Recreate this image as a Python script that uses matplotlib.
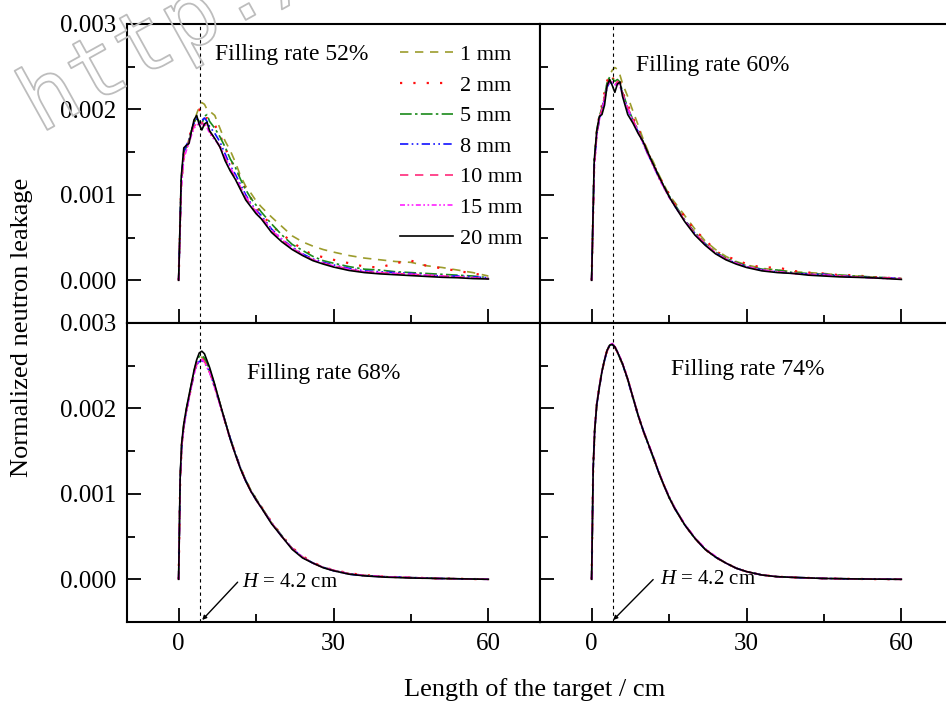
import matplotlib.pyplot as plt
import matplotlib.patheffects as pe
from matplotlib.ticker import MultipleLocator, FormatStrFormatter
import numpy as np

plt.rcParams['font.family'] = ['Liberation Serif', 'DejaVu Serif']
plt.rcParams['mathtext.fontset'] = 'custom'
plt.rcParams['mathtext.rm'] = 'Liberation Serif'
plt.rcParams['mathtext.it'] = 'Liberation Serif:italic'

sizes = ['1 mm', '2 mm', '5 mm', '8 mm', '10 mm', '15 mm', '20 mm']
colors = ['#9c9c2c', '#ff1010', '#1a8a1a', '#1010ff', '#ff2a7a', '#ff20ff', '#000000']
styles = [(0, (5, 4)), (0, (1, 5)), (0, (7, 2, 1.5, 2)), (0, (5, 2, 1, 2, 1, 2)),
          (0, (5, 4)), (0, (3, 1.5, 1, 1.5, 1, 1.5)), '-']
widths = [1.2, 1.6, 1.2, 1.2, 1.2, 1.2, 1.2]

rates = ['Filling rate 52%', 'Filling rate 60%', 'Filling rate 68%', 'Filling rate 74%']

# target length (cm)
x_top = [0, 0.5, 1, 1.5, 2, 2.5, 3, 3.5, 4, 4.5, 5, 5.5, 6, 7, 8, 9, 10, 11, 12, 13,
         14, 15, 16, 18, 20, 22, 24, 26, 28, 30, 33, 36, 39, 42, 45, 48, 51, 54, 57, 60]
x_bot = [0, 0.3, 0.6, 1, 1.5, 2, 2.5, 3, 3.5, 4, 4.5, 5, 6, 7, 8, 9, 10, 11, 12, 13,
         14, 15, 16, 18, 20, 22, 24, 26, 28, 30, 33, 36, 40, 45, 50, 55, 60]

# normalized leakage, units of 1e-4, one row per particle size
leak_52 = [
    [0, 11, 14.5, 15.5, 16.5, 17.5, 18.5, 19.5, 20.3, 20.8, 20.6, 20.0, 19.8, 19.3, 17.8, 16.3, 15.2, 13.8, 12.2, 11.0,
     10.2, 9.3, 8.6, 7.4, 6.3, 5.2, 4.5, 4.0, 3.6, 3.3, 2.9, 2.6, 2.4, 2.2, 2.1, 1.7, 1.5, 1.2, 0.9, 0.5],
    [0, 11.5, 14.8, 15.5, 16.5, 17.8, 18.6, 19.5, 20.0, 19.4, 18.8, 19.0, 18.6, 18.2, 17.0, 15.5, 14.2, 13.0, 12.0, 10.6,
     9.6, 8.6, 7.8, 6.4, 5.4, 4.5, 3.6, 3.0, 2.7, 2.4, 2.0, 1.6, 1.5, 2.0, 2.3, 1.7, 1.4, 1.1, 0.8, 0.5],
    [0, 11.8, 15.0, 15.6, 16.3, 17.5, 18.5, 19.0, 18.6, 18.3, 19.2, 19.4, 18.6, 17.8, 16.8, 15.6, 14.2, 13.2, 11.8, 10.6,
     9.6, 8.8, 8.0, 6.6, 5.3, 4.2, 3.5, 2.8, 2.3, 2.0, 1.6, 1.3, 1.2, 1.0, 0.9, 0.8, 0.7, 0.6, 0.5, 0.3],
    [0, 11.5, 15.0, 15.8, 16.4, 17.5, 18.4, 18.9, 18.4, 18.7, 19.0, 18.6, 18.0, 17.2, 16.2, 14.8, 13.4, 12.4, 11.2, 10.0,
     9.0, 8.2, 7.6, 6.0, 4.8, 3.9, 3.1, 2.5, 2.1, 1.8, 1.4, 1.1, 1.0, 0.9, 0.8, 0.6, 0.5, 0.5, 0.4, 0.3],
    [0, 11.0, 14.5, 15.4, 16.2, 17.3, 18.0, 18.4, 18.2, 18.5, 18.1, 18.3, 17.4, 16.6, 15.6, 14.3, 13.0, 12.0, 10.8, 9.7,
     8.8, 8.0, 7.4, 5.8, 4.7, 3.8, 3.0, 2.4, 2.0, 1.7, 1.3, 1.0, 0.9, 0.8, 0.7, 0.6, 0.5, 0.4, 0.3, 0.2],
    [0, 10.5, 14.2, 15.2, 16.0, 17.0, 17.8, 18.2, 18.3, 18.0, 18.4, 17.9, 17.2, 16.4, 15.8, 14.4, 13.2, 12.1, 10.9, 9.8,
     8.9, 8.1, 7.3, 5.9, 4.8, 3.8, 3.0, 2.4, 2.0, 1.7, 1.3, 1.0, 0.9, 0.8, 0.7, 0.6, 0.5, 0.4, 0.3, 0.2],
    [0, 12.0, 15.5, 15.8, 16.0, 17.5, 18.8, 19.3, 18.2, 17.6, 18.3, 18.5, 17.5, 16.6, 15.6, 14.0, 12.8, 11.8, 10.6, 9.4,
     8.6, 7.8, 7.2, 5.6, 4.5, 3.6, 2.9, 2.3, 1.9, 1.55, 1.15, 0.9, 0.75, 0.65, 0.55, 0.45, 0.35, 0.3, 0.2, 0.15],
]

leak_60 = [
    [0, 13.0, 17.0, 19.0, 20.0, 21.5, 23.0, 24.0, 24.6, 24.9, 24.7, 24.0, 23.0, 21.5, 19.8, 18.2, 16.5, 15.0, 13.8, 12.4,
     11.2, 10.0, 9.2, 7.6, 6.0, 4.6, 3.6, 2.8, 2.2, 1.8, 1.4, 1.2, 1.0, 0.9, 0.8, 0.6, 0.5, 0.4, 0.3, 0.2],
    [0, 13.5, 17.5, 19.3, 20.5, 22.0, 23.3, 24.2, 23.8, 23.2, 23.6, 23.3, 22.0, 20.6, 19.0, 17.8, 16.3, 14.8, 13.6, 12.2,
     11.2, 10.1, 9.0, 7.5, 5.8, 4.8, 3.4, 2.8, 2.4, 1.9, 1.5, 1.5, 1.1, 0.9, 0.8, 0.6, 0.6, 0.4, 0.3, 0.2],
    [0, 13.8, 17.6, 19.2, 20.2, 21.5, 23.2, 23.8, 23.6, 23.3, 23.5, 23.2, 22.0, 20.2, 18.8, 17.6, 16.2, 14.8, 13.5, 12.2,
     11.0, 9.9, 9.0, 7.1, 5.6, 4.3, 3.3, 2.6, 2.1, 1.7, 1.3, 1.2, 0.9, 0.8, 0.7, 0.6, 0.5, 0.4, 0.3, 0.2],
    [0, 13.5, 17.0, 18.8, 19.8, 21.2, 22.6, 23.2, 23.0, 22.8, 23.2, 22.9, 21.8, 20.0, 18.6, 17.4, 16.0, 14.6, 13.4, 12.0,
     10.9, 9.8, 8.8, 7.0, 5.5, 4.2, 3.2, 2.5, 2.0, 1.6, 1.2, 1.0, 0.8, 0.7, 0.7, 0.5, 0.4, 0.3, 0.3, 0.2],
    [0, 13.2, 17.2, 19.0, 20.0, 21.5, 22.8, 23.4, 23.1, 22.8, 23.3, 23.0, 21.9, 20.2, 18.8, 17.5, 16.1, 14.7, 13.4, 12.1,
     10.9, 9.8, 8.9, 7.0, 5.5, 4.3, 3.2, 2.5, 2.0, 1.6, 1.2, 1.0, 0.8, 0.7, 0.6, 0.5, 0.4, 0.3, 0.3, 0.2],
    [0, 13.0, 17.0, 18.8, 19.9, 21.3, 22.6, 23.2, 23.2, 22.9, 23.0, 22.7, 21.6, 20.1, 18.7, 17.4, 16.0, 14.6, 13.3, 12.0,
     10.8, 9.7, 8.8, 7.0, 5.4, 4.2, 3.2, 2.5, 2.0, 1.6, 1.2, 1.0, 0.8, 0.7, 0.6, 0.5, 0.4, 0.3, 0.2, 0.2],
    [0, 14.0, 17.5, 19.2, 19.4, 20.5, 22.8, 23.5, 22.8, 22.0, 23.0, 23.2, 21.5, 19.4, 18.4, 17.2, 16.2, 14.8, 13.5, 12.2,
     11.0, 9.8, 8.8, 6.9, 5.3, 4.1, 3.1, 2.4, 1.9, 1.5, 1.1, 0.9, 0.8, 0.6, 0.5, 0.4, 0.35, 0.3, 0.2, 0.1],
]

leak_68 = [
    [0, 11.5, 15.6, 18.0, 19.8, 21.3, 22.8, 24.2, 25.3, 25.9, 26.0, 25.7, 24.4, 22.6, 20.6, 18.5, 16.5, 14.7, 13.0, 11.6,
     10.4, 9.4, 8.5, 6.6, 5.0, 3.6, 2.6, 1.9, 1.4, 1.05, 0.65, 0.45, 0.3, 0.2, 0.1, 0.05, 0.0],
    [0, 11.6, 15.7, 18.0, 19.8, 21.2, 22.7, 24.1, 25.2, 25.8, 25.9, 25.6, 24.3, 22.5, 20.5, 18.4, 16.4, 14.7, 13.0, 11.6,
     10.4, 9.4, 8.5, 6.7, 5.1, 3.7, 2.7, 2.0, 1.4, 1.1, 0.7, 0.5, 0.3, 0.2, 0.1, 0.05, 0.0],
    [0, 11.8, 15.8, 18.1, 19.9, 21.4, 22.9, 24.4, 25.5, 26.1, 26.2, 25.9, 24.6, 22.7, 20.6, 18.5, 16.5, 14.7, 13.0, 11.6,
     10.4, 9.4, 8.5, 6.6, 5.1, 3.6, 2.6, 1.9, 1.4, 1.05, 0.65, 0.45, 0.3, 0.2, 0.1, 0.05, 0.0],
    [0, 11.7, 15.6, 17.8, 19.6, 21.2, 22.6, 24.1, 25.1, 25.5, 25.6, 25.4, 24.3, 22.5, 20.5, 18.5, 16.5, 14.7, 13.0, 11.5,
     10.3, 9.3, 8.4, 6.6, 5.0, 3.6, 2.6, 1.9, 1.4, 1.0, 0.6, 0.4, 0.3, 0.2, 0.1, 0.05, 0.0],
    [0, 11.5, 15.5, 17.9, 19.7, 21.2, 22.7, 24.2, 25.3, 25.8, 25.8, 25.5, 24.3, 22.5, 20.5, 18.4, 16.4, 14.6, 12.9, 11.5,
     10.3, 9.3, 8.4, 6.6, 5.0, 3.6, 2.6, 1.9, 1.4, 1.05, 0.65, 0.45, 0.3, 0.2, 0.1, 0.05, 0.0],
    [0, 11.4, 15.4, 17.8, 19.6, 21.1, 22.6, 24.0, 25.1, 25.6, 25.7, 25.4, 24.2, 22.4, 20.4, 18.4, 16.4, 14.6, 12.9, 11.5,
     10.3, 9.3, 8.4, 6.6, 5.0, 3.6, 2.6, 1.9, 1.4, 1.05, 0.65, 0.45, 0.3, 0.2, 0.1, 0.05, 0.0],
    [0, 12.0, 16.0, 18.2, 20.0, 21.5, 23.0, 24.5, 25.7, 26.5, 26.7, 26.4, 24.8, 22.8, 20.6, 18.5, 16.4, 14.6, 12.9, 11.5,
     10.3, 9.3, 8.4, 6.5, 5.0, 3.5, 2.5, 1.9, 1.35, 1.0, 0.6, 0.4, 0.25, 0.15, 0.1, 0.05, 0.0],
]

leak_74 = [
    [0, 12.9, 17.4, 20.4, 22.5, 24.3, 25.7, 26.8, 27.4, 27.4, 27.1, 26.6, 25.2, 23.4, 21.3, 19.3, 17.4, 15.8, 14.2, 12.5,
     11.0, 9.7, 8.5, 6.4, 4.8, 3.5, 2.6, 1.9, 1.3, 0.9, 0.5, 0.3, 0.2, 0.1, 0.05, 0.02, 0.0],
    [0, 13.0, 17.4, 20.5, 22.6, 24.3, 25.8, 26.8, 27.3, 27.4, 27.2, 26.6, 25.2, 23.4, 21.3, 19.2, 17.4, 15.8, 14.2, 12.6,
     11.0, 9.6, 8.4, 6.4, 4.8, 3.5, 2.6, 1.9, 1.3, 0.9, 0.5, 0.3, 0.2, 0.1, 0.05, 0.02, 0.0],
    [0, 13.1, 17.5, 20.6, 22.6, 24.4, 25.7, 26.8, 27.4, 27.5, 27.2, 26.6, 25.1, 23.4, 21.3, 19.2, 17.4, 15.8, 14.1, 12.5,
     11.0, 9.6, 8.4, 6.4, 4.8, 3.5, 2.6, 1.9, 1.3, 0.9, 0.5, 0.3, 0.2, 0.1, 0.05, 0.02, 0.0],
    [0, 12.9, 17.5, 20.4, 22.4, 24.2, 25.6, 26.7, 27.3, 27.5, 27.2, 26.6, 25.2, 23.3, 21.2, 19.2, 17.4, 15.7, 14.2, 12.5,
     11.0, 9.6, 8.4, 6.4, 4.8, 3.5, 2.6, 1.9, 1.3, 0.9, 0.5, 0.3, 0.2, 0.1, 0.05, 0.02, 0.0],
    [0, 13.0, 17.6, 20.5, 22.5, 24.3, 25.7, 26.7, 27.3, 27.4, 27.2, 26.5, 25.2, 23.4, 21.3, 19.2, 17.3, 15.8, 14.2, 12.5,
     11.0, 9.6, 8.4, 6.4, 4.8, 3.5, 2.6, 1.9, 1.3, 0.9, 0.5, 0.3, 0.2, 0.1, 0.05, 0.02, 0.0],
    [0, 13.1, 17.6, 20.6, 22.6, 24.4, 25.8, 26.9, 27.5, 27.6, 27.3, 26.7, 25.3, 23.5, 21.4, 19.3, 17.5, 15.9, 14.3, 12.6,
     11.1, 9.7, 8.5, 6.5, 4.9, 3.6, 2.7, 1.9, 1.3, 0.9, 0.5, 0.3, 0.2, 0.1, 0.05, 0.02, 0.0],
    [0, 13.0, 17.5, 20.5, 22.5, 24.3, 25.7, 26.8, 27.4, 27.5, 27.2, 26.6, 25.2, 23.4, 21.3, 19.2, 17.4, 15.8, 14.2, 12.5,
     11.0, 9.6, 8.4, 6.4, 4.8, 3.5, 2.6, 1.9, 1.3, 0.9, 0.5, 0.3, 0.2, 0.1, 0.05, 0.02, 0.0],
]

H = 4.2

W, Hpx = 946, 707
fig = plt.figure(figsize=(W / 100, Hpx / 100), dpi=100)

# panel boxes in pixels: left, top, right, bottom (right column runs past the edge)
boxes = [(127, 24, 540, 323), (540, 24, 953, 323), (127, 323, 540, 622), (540, 323, 953, 622)]
panels = [(x_top, leak_52), (x_top, leak_60), (x_bot, leak_68), (x_bot, leak_74)]
text_pos = [(7.0, 0.00264), (8.6, 0.00252), (13.2, 0.00241), (15.3, 0.00245)]

axes = []
for i, (l, t, r, b) in enumerate(boxes):
    ax = fig.add_axes([l / W, 1 - b / Hpx, (r - l) / W, (b - t) / Hpx])
    xs, data = panels[i]
    for k in range(len(sizes)):
        ax.plot(xs, np.array(data[k]) * 1e-4, color=colors[k], linestyle=styles[k],
                lw=widths[k], label=sizes[k])
    ax.axvline(H, color='k', lw=0.8, linestyle=(0, (3, 3)))
    ax.set_xlim(-10, 70)
    ax.set_ylim(-0.0005, 0.003)
    ax.xaxis.set_major_locator(MultipleLocator(30))
    ax.xaxis.set_minor_locator(MultipleLocator(15))
    ax.yaxis.set_major_locator(MultipleLocator(0.001))
    ax.yaxis.set_minor_locator(MultipleLocator(0.0005))
    ax.yaxis.set_major_formatter(FormatStrFormatter('%.3f'))
    ax.tick_params(which='both', direction='in', width=1.3, labelsize=18, pad=8)
    ax.tick_params(which='major', length=10)
    ax.tick_params(which='minor', length=6)
    for s in ax.spines.values():
        s.set_linewidth(1.5)
    if i % 2 == 1:
        ax.tick_params(labelleft=False)
    if i < 2:
        ax.tick_params(labelbottom=False)
    ax.text(text_pos[i][0], text_pos[i][1], rates[i], fontsize=17, va='center', ha='left')
    axes.append(ax)

axes[0].legend(loc='upper left', bbox_to_anchor=(0.633, 0.968), frameon=False, fontsize=16,
               handlelength=2.4, handletextpad=0.3, labelspacing=0.45, borderpad=0)

# marker for the peak position
axes[2].text(12.3, -0.00004, r'$H$ = 4.2 cm', fontsize=15, va='center', ha='left')
axes[2].annotate('', xy=(H, -0.0005), xytext=(11.8, -0.00001),
                 arrowprops=dict(arrowstyle='-|>', lw=1, color='k', mutation_scale=6))
axes[3].text(13.3, 0.0, r'$H$ = 4.2 cm', fontsize=15, va='center', ha='left')
axes[3].annotate('', xy=(3.8, -0.0005), xytext=(12.3, 0.00002),
                 arrowprops=dict(arrowstyle='-|>', lw=1, color='k', mutation_scale=6))

fig.text(535 / W, 1 - 690 / Hpx, 'Length of the target / cm', fontsize=19, ha='center', va='center')
fig.text(22 / W, 1 - 327 / Hpx, 'Normalized neutron leakage', fontsize=19, ha='center',
         va='center', rotation=90)

fig.text(40 / W, 1 - 134 / Hpx, 'http://', fontsize=64, rotation=29, rotation_mode='anchor',
         ha='left', va='baseline', color=(1, 1, 1, 0), family='DejaVu Sans Mono', zorder=10,
         path_effects=[pe.withStroke(linewidth=1.3, foreground='#bdbdbd')])

fig.savefig('out.png', dpi=100)
